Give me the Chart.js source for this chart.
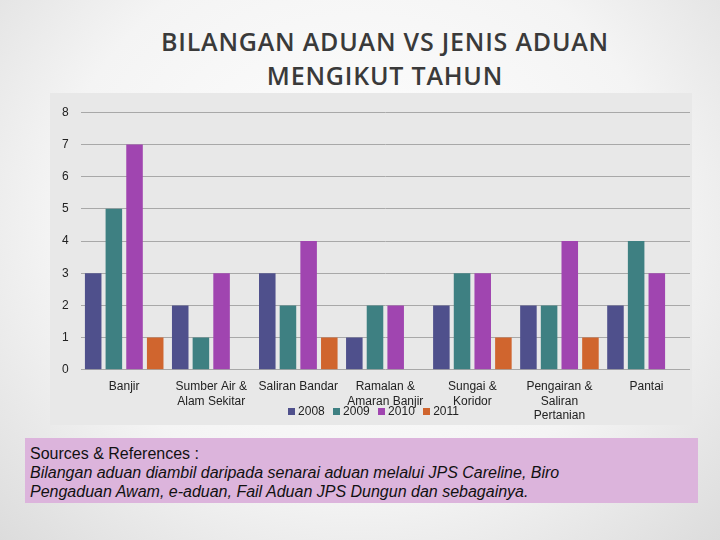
<!DOCTYPE html>
<html lang="ms">
<head>
  <meta charset="UTF-8">
  <title>Bilangan Aduan vs Jenis Aduan</title>
  <script src="https://cdn.jsdelivr.net/npm/chart.js"></script>
  <style>
    body {
      margin: 0;
      width: 720px;
      height: 540px;
      position: relative;
      overflow: hidden;
      font-family: 'Liberation Sans', Arial, sans-serif;
      background: radial-gradient(ellipse at 50% 40%, #ffffff 0%, #f4f4f4 60%, #dcdcdc 100%);
    }
    .title {
      position: absolute;
      left: 60px; width: 650px; top: 24px;
      text-align: center;
      font-family: 'Open Sans', sans-serif;
      font-weight: 600;
      font-size: 25px;
      line-height: 34px;
      color: #3a3a3a;
      letter-spacing: 0.8px;
    }
    .chartbox {
      position: absolute;
      left: 50px; top: 93px; width: 642px; height: 332px;
      background: #e8e8e8;
    }
    .legend {
      position: absolute;
      left: 0; width: 642px; top: 311px;
      text-align: center;
      font-size: 12px;
      color: #222;
    }
    .legend span { display: inline-block; width: 7px; height: 7px; margin: 0 3px 0 5px; }
    .sources {
      position: absolute;
      left: 25px; top: 438px; width: 673px; height: 65px;
      background: #dcb4dc;
      box-sizing: border-box;
      padding: 6px 5px;
      font-size: 16px;
      line-height: 19px;
      color: #111;
    }
  </style>
</head>
<body>
<div class="title">BILANGAN ADUAN VS JENIS ADUAN<br>MENGIKUT TAHUN</div>
<div class="chartbox">
  <canvas id="chart" width="642" height="332"></canvas>
  <div class="legend" id="legend"></div>
</div>
<div class="sources">Sources &amp; References :<br><i>Bilangan aduan diambil daripada senarai aduan melalui JPS Careline, Biro<br>Pengaduan Awam, e-aduan, Fail Aduan JPS Dungun dan sebagainya.</i></div>
<script>
  const categories = ['Banjir', ['Sumber Air &', 'Alam Sekitar'], 'Saliran Bandar', ['Ramalan &', 'Amaran Banjir'],
    ['Sungai &', 'Koridor'], ['Pengairan &', 'Saliran', 'Pertanian'], 'Pantai'];
  const years = ['2008', '2009', '2010', '2011'];
  const y2008 = [3, 2, 3, 1, 2, 2, 2];
  const y2009 = [5, 1, 2, 2, 3, 2, 4];
  const y2010 = [7, 3, 4, 2, 3, 4, 3];
  const y2011 = [1, 0, 1, 0, 1, 1, 0];
  const colors = ['#4f508c', '#3e8082', '#a045b0', '#d0652e'];

  const series = [y2008, y2009, y2010, y2011];
  const datasets = series.map((data, i) => ({
    label: years[i], data, backgroundColor: colors[i], barPercentage: 0.8, categoryPercentage: 0.95
  }));

  // legend as plain text under the axis labels
  document.getElementById('legend').innerHTML = years.map((y, i) =>
    `<span style="background:${colors[i]}"></span>${y}`).join(' ');

  new Chart(document.getElementById('chart'), {
    type: 'bar',
    data: { labels: categories, datasets },
    options: {
      responsive: false,
      animation: false,
      layout: { padding: { top: 9, right: 2, left: 0, bottom: 0 } },
      plugins: { legend: { display: false }, tooltip: { enabled: false } },
      scales: {
        x: {
          grid: { display: false },
          border: { display: false },
          ticks: { maxRotation: 0, autoSkip: false, padding: 2, font: { size: 12, family: 'Liberation Sans', lineHeight: 1.2 }, color: '#222' }
        },
        y: {
          min: 0, max: 8,
          ticks: { stepSize: 1, font: { size: 12, family: 'Liberation Sans' }, color: '#222', padding: 12 },
          grid: { color: '#a8a8a8', drawTicks: false },
          border: { display: false }
        }
      }
    }
  });
</script>
</body>
</html>
